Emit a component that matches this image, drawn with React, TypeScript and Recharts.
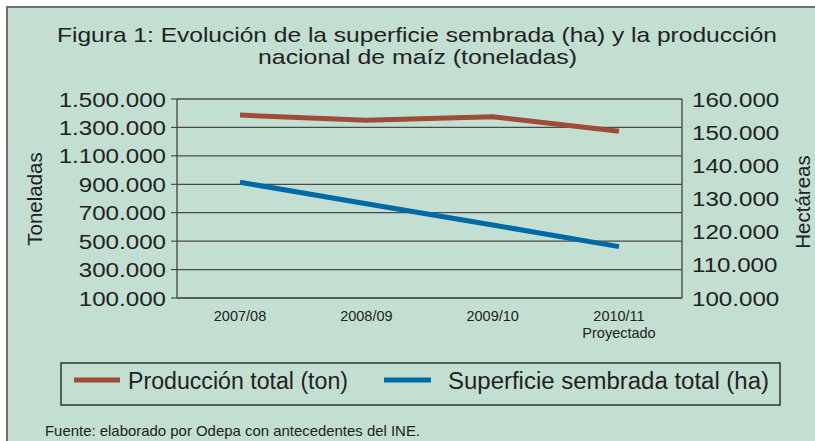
import React from "react";
import { LineChart, Line, XAxis, YAxis, CartesianGrid } from "recharts";

const categories = ["2007/08", "2008/09", "2009/10", "2010/11"];
const categoryNotes = ["", "", "", "Proyectado"];

// toneladas (eje izquierdo)
const produccionTotal = [1387000, 1350000, 1375000, 1273000];
// hectáreas (eje derecho)
const superficieSembrada = [134900, 128400, 122000, 115500];

const toneladasTicks = [100000, 300000, 500000, 700000, 900000, 1100000, 1300000, 1500000];
const hectareasTicks = [100000, 110000, 120000, 130000, 140000, 150000, 160000];

const BG = "#c3dfd2";
const RED = "#a04a38";
const BLUE = "#006aa6";
const TEXT = "#222";
const FONT = "'Liberation Sans', Arial, sans-serif";

const series = [
  { key: "produccion", name: "Producción total (ton)", color: RED },
  { key: "superficie", name: "Superficie sembrada total (ha)", color: BLUE },
];

const data = categories.map((c, i) => ({
  year: c,
  produccion: produccionTotal[i],
  superficie: superficieSembrada[i],
}));

const fmt = (v: number) => String(v).replace(/\B(?=(\d{3})+(?!\d))/g, ".");

function LeftTick({ x, y, payload }: any) {
  return (
    <text
      transform={`translate(${x},${y}) scale(1.15,1)`}
      textAnchor="end"
      dy="0.36em"
      fontSize={21}
      fontFamily={FONT}
      fill={TEXT}
    >
      {fmt(payload.value)}
    </text>
  );
}

function RightTick({ x, y, payload }: any) {
  return (
    <text
      transform={`translate(${x},${y}) scale(1.15,1)`}
      textAnchor="start"
      dy="0.36em"
      fontSize={21}
      fontFamily={FONT}
      fill={TEXT}
    >
      {fmt(payload.value)}
    </text>
  );
}

function BottomTick({ x, y, payload, index }: any) {
  const note = categoryNotes[index];
  return (
    <g transform={`translate(${x},${y})`}>
      <text textAnchor="middle" y={23} fontSize={14.5} fontFamily={FONT} fill={TEXT}>
        {payload.value}
      </text>
      {note ? (
        <text textAnchor="middle" y={40} fontSize={14.5} fontFamily={FONT} fill={TEXT}>
          {note}
        </text>
      ) : null}
    </g>
  );
}

export default function App() {
  return (
    <div
      style={{
        position: "absolute",
        left: 0,
        top: 0,
        width: 815,
        height: 441,
        background: "#fff",
        overflow: "hidden",
      }}
    >
      <div
        style={{
          position: "absolute",
          left: 6,
          top: 6,
          width: 820,
          height: 450,
          background: BG,
          borderTop: "2px solid #707070",
          borderLeft: "2px solid #707070",
        }}
      />
      <div style={{ position: "absolute", left: 0, top: 0 }}>
        <LineChart
          width={815}
          height={441}
          data={data}
          margin={{ top: 99, right: 0, bottom: 103, left: 0 }}
        >
          <CartesianGrid
            yAxisId="ton"
            vertical={false}
            stroke="#4a4a4a"
            strokeWidth={1.3}
          />
          <XAxis
            dataKey="year"
            height={40}
            padding={{ left: 63, right: 63 }}
            tickLine={false}
            tickSize={0}
            tickMargin={0}
            axisLine={{ stroke: "#555", strokeWidth: 1.5 }}
            tick={<BottomTick />}
            interval={0}
          />
          <YAxis
            yAxisId="ton"
            width={177}
            domain={[100000, 1500000]}
            ticks={toneladasTicks}
            tickSize={6}
            tickMargin={5}
            tickLine={{ stroke: "#333" }}
            axisLine={{ stroke: "#555", strokeWidth: 1.5 }}
            tick={<LeftTick />}
            interval={0}
          />
          <YAxis
            yAxisId="ha"
            orientation="right"
            width={133}
            domain={[100000, 160000]}
            ticks={hectareasTicks}
            tickLine={false}
            tickSize={0}
            tickMargin={10}
            axisLine={{ stroke: "#555", strokeWidth: 1.5 }}
            tick={<RightTick />}
            interval={0}
          />
          <Line
            yAxisId="ton"
            dataKey="produccion"
            name={series[0].name}
            stroke={series[0].color}
            strokeWidth={5}
            dot={false}
            type="linear"
            isAnimationActive={false}
          />
          <Line
            yAxisId="ha"
            dataKey="superficie"
            name={series[1].name}
            stroke={series[1].color}
            strokeWidth={5}
            dot={false}
            type="linear"
            isAnimationActive={false}
          />
        </LineChart>
      </div>
      <svg
        width={815}
        height={441}
        style={{ position: "absolute", left: 0, top: 0, pointerEvents: "none" }}
        fontFamily={FONT}
        fill={TEXT}
      >
        <text x={57} y={42} fontSize={21} textLength={720} lengthAdjust="spacingAndGlyphs">
          Figura 1: Evolución de la superficie sembrada (ha) y la producción
        </text>
        <text x={258} y={64} fontSize={21} textLength={319} lengthAdjust="spacingAndGlyphs">
          nacional de maíz (toneladas)
        </text>
        <text
          transform="translate(35,199) rotate(-90)"
          textAnchor="middle"
          dy="0.36em"
          fontSize={20.5}
        >
          Toneladas
        </text>
        <text
          transform="translate(803,202) rotate(-90)"
          textAnchor="middle"
          dy="0.36em"
          fontSize={20.5}
        >
          Hectáreas
        </text>
        <rect x={61} y={363} width={719} height={42} fill="none" stroke="#333" strokeWidth={1.5} />
        <line x1={74} x2={120} y1={380} y2={380} stroke={series[0].color} strokeWidth={5} />
        <text x={128} y={389} fontSize={23} textLength={220} lengthAdjust="spacingAndGlyphs">
          {series[0].name}
        </text>
        <line x1={384} x2={431} y1={380} y2={380} stroke={series[1].color} strokeWidth={5} />
        <text x={448} y={389} fontSize={23} textLength={321} lengthAdjust="spacingAndGlyphs">
          {series[1].name}
        </text>
        <text x={45} y={436} fontSize={15} textLength={375} lengthAdjust="spacingAndGlyphs">
          Fuente: elaborado por Odepa con antecedentes del INE.
        </text>
      </svg>
    </div>
  );
}
